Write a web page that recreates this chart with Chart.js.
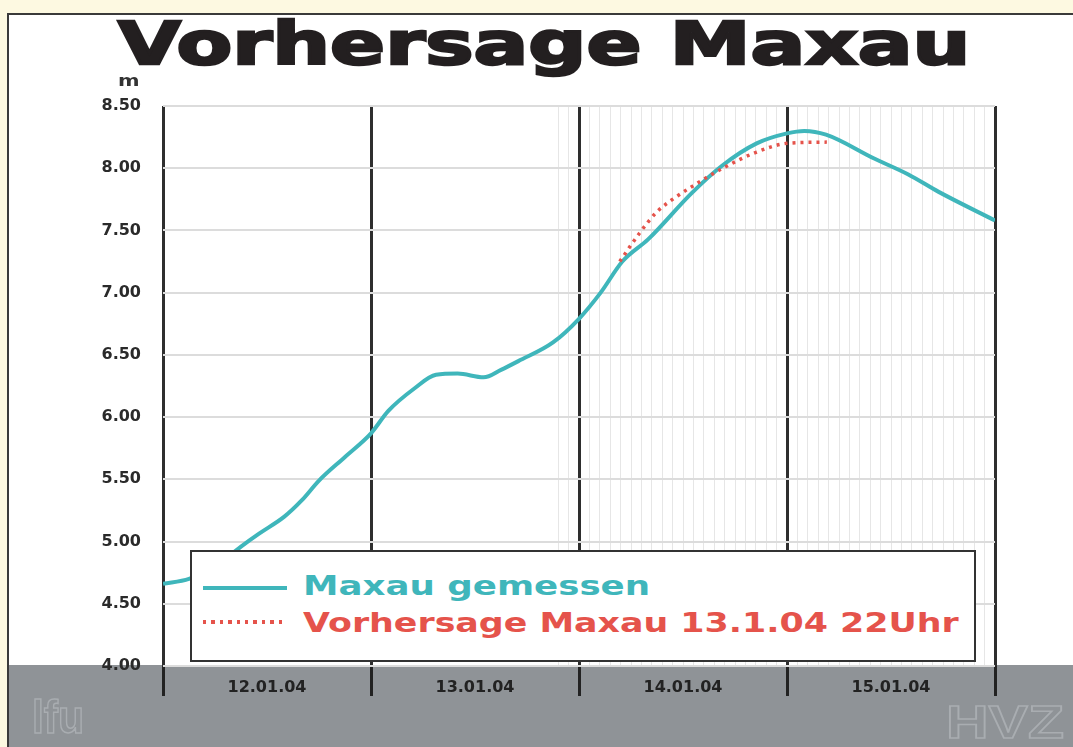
<!DOCTYPE html>
<html>
<head>
<meta charset="utf-8">
<title>Vorhersage Maxau</title>
<script src="https://cdn.jsdelivr.net/npm/chart.js@4.4.1/dist/chart.umd.min.js"></script>
<style>
    html, body { margin: 0; padding: 0; width: 1073px; height: 747px; overflow: hidden; background: #fdf9e1; font-family: "DejaVu Sans", sans-serif; }
    #frame { position: absolute; left: 7px; top: 13px; width: 1066px; height: 734px; background: #fff; border-left: 2px solid #3a3a3a; border-top: 2px solid #3a3a3a; box-sizing: border-box; }
    #band { position: absolute; left: 9px; top: 665px; width: 1064px; height: 82px; background: #8f9397; }
    #wrap { position: absolute; left: 0; top: 0; width: 1073px; height: 747px; z-index: 1; }
    .txt { position: absolute; white-space: nowrap; font-weight: bold; transform-origin: 0 0; line-height: 1; z-index: 2; }
    #title { left: 118px; top: 14px; font-size: 59px; color: #231f20; -webkit-text-stroke: 2.5px #231f20; }
    #unit { left: 118px; top: 73px; font-size: 16px; color: #333; }
    #legend { position: absolute; left: 190px; top: 550px; width: 786px; height: 112px; background: #fff; border: 2px solid #333; box-sizing: border-box; z-index: 2; }
    #legend .txt { font-size: 27px; }
    #lgMeasured { left: 111px; top: 20px; color: #3fb6bb; }
    #lgForecast { left: 111px; top: 57px; color: #e5534b; }
    .sample { position: absolute; left: 11px; width: 84px; height: 4px; }
    #smMeasured { top: 34px; background: #3fb6bb; }
    #smForecast { top: 68px; background: repeating-linear-gradient(90deg, #e5534b 0 3.5px, transparent 3.5px 8.4px); }
    .logo { font-family: "Liberation Sans", sans-serif; font-weight: bold; color: transparent; -webkit-text-stroke: 1.5px #a9adb1; }
    #logoL { left: 32px; top: 694px; font-size: 46px; }
    #logoR { left: 946px; top: 699px; font-size: 46px; }
</style>
</head>
<body>
<div id="frame"></div>
<div id="band"></div>
<div id="wrap"><canvas id="levelChart"></canvas></div>
<span class="txt" id="title">Vorhersage Maxau</span>
<span class="txt" id="unit">m</span>
<div id="legend">
    <div class="sample" id="smMeasured"></div>
    <span class="txt" id="lgMeasured">Maxau gemessen</span>
    <div class="sample" id="smForecast"></div>
    <span class="txt" id="lgForecast">Vorhersage Maxau 13.1.04 22Uhr</span>
</div>
<span class="txt logo" id="logoL">lfu</span>
<span class="txt logo" id="logoR">HVZ</span>

<script>
// hours since 12.01.04 00:00, water level in m
const measuredHours = [0, 3, 6, 9, 11, 14, 16, 18, 21, 24, 26, 29, 31.5, 34, 37, 39, 41, 45, 48, 50.5, 53, 56, 61, 64.5, 68.5, 72, 74, 76.5, 82, 86, 89.5, 96]
const measuredLevels = [4.66, 4.70, 4.80, 4.96, 5.06, 5.20, 5.33, 5.49, 5.68, 5.87, 6.05, 6.23, 6.34, 6.35, 6.32, 6.38, 6.45, 6.60, 6.79, 7.00, 7.25, 7.43, 7.80, 8.02, 8.20, 8.28, 8.30, 8.27, 8.08, 7.95, 7.81, 7.58]

const forecastHours = [52.7, 55, 57, 59, 61.2, 64.6, 68.5, 72, 76.6]
const forecastLevels = [7.25, 7.48, 7.65, 7.76, 7.86, 8.00, 8.13, 8.20, 8.21]

const dayLabels = ['12.01.04', '13.01.04', '14.01.04', '15.01.04']
const yTicks = [4.00, 4.50, 5.00, 5.50, 6.00, 6.50, 7.00, 7.50, 8.00, 8.50]

const hatchStart = 45.6

function stretch(id, width) {
    const el = document.getElementById(id)
    el.style.transform = 'scaleX(' + (width / el.offsetWidth) + ')'
}

function isDay(v) {
    return Math.abs(v / 24 - Math.round(v / 24)) < 1e-6
}

document.addEventListener("DOMContentLoaded", function () {
    stretch('title', 852)
    stretch('unit', 22)
    stretch('lgMeasured', 347)
    stretch('lgForecast', 656)
    stretch('logoL', 52)
    stretch('logoR', 118)

    const ctx = document.getElementById('levelChart').getContext('2d')
    const tickFont = { family: 'DejaVu Sans', size: 16, weight: 'bold' }

    new Chart(ctx, {
        type: 'line',
        data: {
            datasets: [{
                label: 'Maxau gemessen',
                data: measuredHours.map((h, i) => ({ x: h, y: measuredLevels[i] })),
                borderColor: '#3fb6bb',
                borderWidth: 4,
                pointRadius: 0,
                cubicInterpolationMode: 'monotone',
                order: 2
            }, {
                label: 'Vorhersage Maxau 13.1.04 22Uhr',
                data: forecastHours.map((h, i) => ({ x: h, y: forecastLevels[i] })),
                borderColor: '#e5534b',
                borderWidth: 3.5,
                borderDash: [3, 5],
                pointRadius: 0,
                cubicInterpolationMode: 'monotone',
                order: 1
            }]
        },
        options: {
            responsive: true,
            maintainAspectRatio: false,
            animation: false,
            layout: {
                padding: { left: 0, right: 78, top: 106, bottom: 0 }
            },
            plugins: {
                legend: { display: false },
                tooltip: { enabled: false }
            },
            scales: {
                x: {
                    type: 'linear',
                    min: 0,
                    max: 96,
                    afterFit: s => { s.height = 81 },
                    border: { display: false },
                    grid: {
                        color: c => isDay(c.tick.value) ? '#2e2e2e' : (c.tick.value >= hatchStart ? '#e6e6e6' : 'rgba(0,0,0,0)'),
                        lineWidth: c => isDay(c.tick.value) ? 3 : 1,
                        tickColor: c => isDay(c.tick.value) ? '#222' : 'rgba(0,0,0,0)',
                        tickLength: 30
                    },
                    ticks: {
                        stepSize: 1.2,
                        autoSkip: false,
                        maxRotation: 0,
                        padding: -18,
                        color: '#222',
                        font: tickFont,
                        callback: v => {
                            const d = (v - 12) / 24
                            return Math.abs(d - Math.round(d)) < 1e-6 ? dayLabels[Math.round(d)] : ''
                        }
                    }
                },
                y: {
                    min: 4,
                    max: 8.5,
                    afterFit: s => { s.width = 163 },
                    afterBuildTicks: s => { s.ticks = yTicks.map(v => ({ value: v })) },
                    border: { display: false },
                    grid: {
                        color: '#dcdcdc',
                        lineWidth: 2,
                        drawTicks: false
                    },
                    ticks: {
                        padding: 22,
                        color: '#2a2a2a',
                        font: tickFont,
                        callback: v => v.toFixed(2)
                    }
                }
            }
        }
    });
});
</script>
</body>
</html>
